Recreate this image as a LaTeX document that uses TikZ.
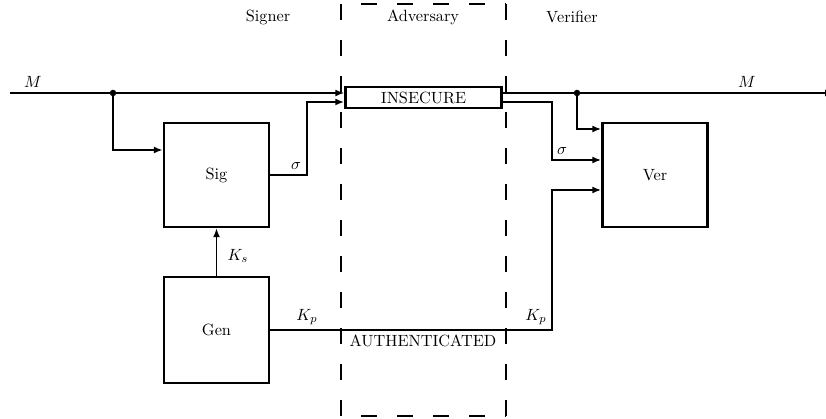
\documentclass[tikz,border=0pt]{standalone}
\usetikzlibrary{arrows.meta,calc}
\begin{document}
\begin{tikzpicture}[x=0.615pt,y=-0.615pt,
  thinln/.style={line width=0.95pt},
  thickln/.style={line width=1.5pt},
  arr/.style={-{Latex[length=5.5pt,width=4.3pt]}},
  block/.style={draw,line width=1.5pt,minimum width=64.6pt,minimum height=64pt,inner sep=0pt},
  chan/.style={draw,line width=1.5pt,minimum width=96pt,minimum height=12.9pt,inner sep=0pt},
  adv/.style={line width=1.4pt,dash pattern=on 9.84pt off 12.3pt},
  advh/.style={line width=1.4pt,dash pattern=on 9.84pt off 12.3pt,dash phase=9.84pt},
  dot/.style={circle,fill,inner sep=0pt,minimum size=4pt}]
\useasboundingbox (0,0) rectangle (826,419);
% boxes
\node[block] (sig) at (216.5,175) {Sig};
\node[block,minimum height=65pt] (gen) at (216.5,330) {Gen};
\node[block] (ver) at (655,175) {Ver};
\node[chan] (ins) at (423.5,97.5) {INSECURE};
% adversary dashed region
\coordinate (a1) at (341,4);
\coordinate (a2) at (506,4);
\coordinate (a3) at (506,418);
\coordinate (a4) at (341,418);
\draw[adv] (a1) -- (a4);
\draw[adv] (a2) -- (a3);
\draw[advh] (a1) -- (a2);
\coordinate (b4) at (341,416);
\coordinate (b3) at (506,416);
\draw[advh] (b4) -- (b3);
% labels
\node (signer) at (268,17) {Signer};
\node (adversary) at (423,17) {Adversary};
\node (verifier) at (572,17) {Verifier};
% message line
\coordinate (min) at (10,93);
\coordinate (mout) at (834,93);
\coordinate (d1) at (113,93);
\coordinate (d2) at (577,93);
\draw[thinln,arr] (min) -- (min -| ins.west);
\draw[thinln,arr] (min -| ins.east) -- (mout);
\node (ml) at (33,82) {$M$};
\node (mr) at (747,82) {$M$};
\node[dot] (dot1) at (d1) {};
\node[dot] (dot2) at (d2) {};
\draw[thickln,arr] (d1) |- ($(sig.west)+(0,-25)$);
\draw[thickln,arr] (d2) |- ($(ver.west)+(0,-46)$);
% signature
\coordinate (sb) at (307,102);
\coordinate (sr) at (552,102);
\draw[thickln,arr] (sig.east) -| (sb) -- (sb -| ins.west);
\draw[thickln,arr] (sb -| ins.east) -- (sr) |- ($(ver.west)+(0,-15)$);
\node (sl) at (296,166) {$\sigma$};
\node (srl) at (562,151) {$\sigma$};
% keys
\draw[thinln,arr] (gen.north) -- (sig.south);
\node (ks) at (238,256) {$K_s$};
\coordinate (kc) at (552,190);
\draw[thickln,arr] (gen.east) -| (kc) -- (kc -| ver.west);
\node (kpl) at (307,317) {$K_p$};
\node (kpr) at (536,317) {$K_p$};
\node (auth) at (423,341) {AUTHENTICATED};
\end{tikzpicture}
\end{document}
